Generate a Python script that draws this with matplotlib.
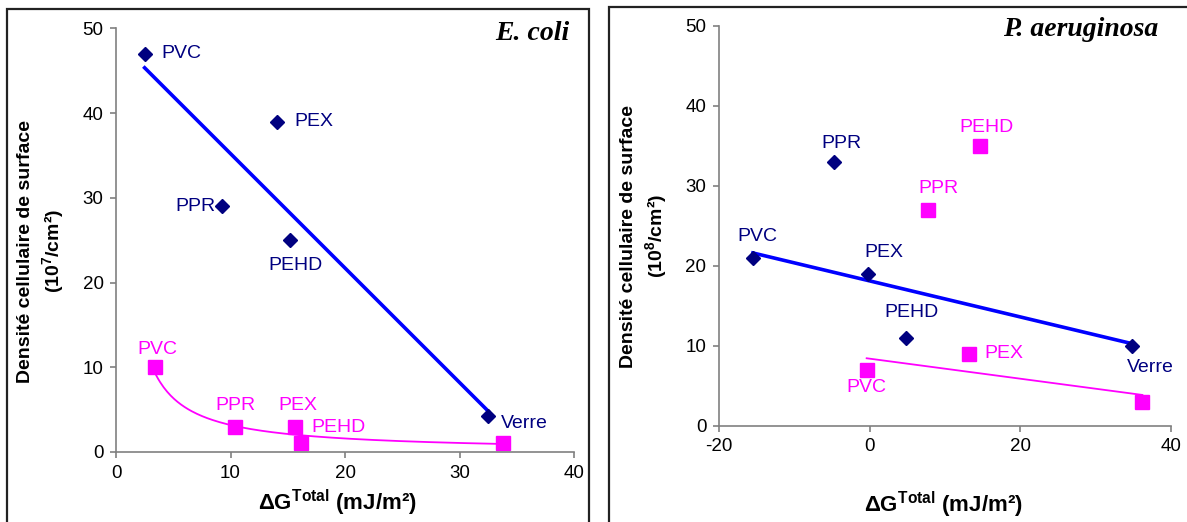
import numpy as np
import matplotlib
matplotlib.use('Agg')
import matplotlib.pyplot as plt
from matplotlib.patches import Rectangle

plt.rcParams['font.family'] = ['Liberation Sans', 'DejaVu Sans']
plt.rcParams['mathtext.fontset'] = 'custom'
plt.rcParams['mathtext.rm'] = 'Liberation Sans'
plt.rcParams['mathtext.bf'] = 'Liberation Sans:bold'
plt.rcParams['axes.unicode_minus'] = False

# ---- data ----
materials = ['PVC', 'PPR', 'PEX', 'PEHD', 'Verre']

# E. coli
ecoli_dg_blue = [2.5, 9.3, 14.1, 15.2, 32.5]
ecoli_dens_blue = [47, 29, 39, 25, 4.2]
ecoli_dg_pink = [3.4, 10.4, 15.6, 16.2, 33.8]
ecoli_dens_pink = [10, 3, 3, 1.1, 1.1]

# P. aeruginosa
pa_dg_blue = [-15.5, -4.7, -0.2, 4.8, 34.8]
pa_dens_blue = [21, 33, 19, 11, 10]
pa_dg_pink = [-0.4, 7.7, 13.2, 14.6, 36.2]
pa_dens_pink = [7, 27, 9, 35, 3]
pa_fit_mask = [True, False, True, False, True]   # points used for the trend lines

navy = '#000080'
blue = '#0000FF'
pink = '#FF00FF'

# label offsets (points): (dx, dy, ha)
ecoli_blue_off = {'PVC': (12, 0, 'left'), 'PPR': (-5, 0, 'right'), 'PEX': (12, 0, 'left'),
                  'PEHD': (4, -18, 'center'), 'Verre': (9, -5, 'left')}
ecoli_pink_off = {'PVC': (2, 13, 'center'), 'PPR': (0, 15, 'center'), 'PEX': (2, 15, 'center'),
                  'PEHD': (7, 11, 'left'), 'Verre': None}
pa_blue_off = {'PVC': (3, 15, 'center'), 'PPR': (5, 13, 'center'), 'PEX': (11, 15, 'center'),
               'PEHD': (4, 18, 'center'), 'Verre': (13, -16, 'center')}
pa_pink_off = {'PVC': (0, -13, 'center'), 'PPR': (8, 15, 'center'), 'PEX': (11, 0, 'left'),
               'PEHD': (5, 13, 'center'), 'Verre': None}

fig = plt.figure(figsize=(11.87, 5.22), dpi=100)

# outer frames of the two panels
fig.add_artist(Rectangle((7/1187, -0.05), (589-7)/1187, 1.05 - 9/522, transform=fig.transFigure,
                         fill=False, lw=1.6, ec='#222222'))
fig.add_artist(Rectangle((609/1187, -0.05), 0.6, 1.05 - 7/522, transform=fig.transFigure,
                         fill=False, lw=1.6, ec='#222222'))

ax1 = fig.add_axes([116/1187, 70/522, 458/1187, 423.7/522])
ax2 = fig.add_axes([719/1187, 96.3/522, 452/1187, 400/522])


def style(ax, xlim, xticks):
    ax.set_xlim(*xlim)
    ax.set_ylim(0, 50)
    ax.set_xticks(xticks)
    ax.set_yticks(range(0, 51, 10))
    for s in ['top', 'right']:
        ax.spines[s].set_visible(False)
    for s in ['left', 'bottom']:
        ax.spines[s].set_color('#808080')
        ax.spines[s].set_linewidth(1.2)
    ax.tick_params(direction='out', length=4, width=1.2, color='#808080', labelsize=13.5, pad=5)
    ax.patch.set_alpha(0)


def labels(ax, xs, ys, offs, color):
    for name, x, y in zip(materials, xs, ys):
        o = offs[name]
        if o is None:
            continue
        ax.annotate(name, (x, y), xytext=(o[0], o[1]), textcoords='offset points',
                    ha=o[2], va='center', fontsize=14, color=color, annotation_clip=False)


# ---- E. coli ----
style(ax1, (0, 40), range(0, 41, 10))
xb = np.array(ecoli_dg_blue)
yb = np.array(ecoli_dens_blue)
k, b = np.polyfit(xb, yb, 1)
xx = np.array([xb.min(), xb.max()])
ax1.plot(xx, k*xx + b, color=blue, lw=2.6)
xp = np.array(ecoli_dg_pink)
yp = np.array(ecoli_dens_pink)
kp, bp = np.polyfit(np.log(xp), np.log(yp), 1)
xc = np.linspace(xp.min(), xp.max(), 200)
ax1.plot(xc, np.exp(bp) * xc**kp, color=pink, lw=1.3)
ax1.plot(xb, yb, 'D', color=navy, ms=7, clip_on=False)
ax1.plot(xp, yp, 's', color=pink, ms=9.5, clip_on=False)
labels(ax1, xb, yb, ecoli_blue_off, navy)
labels(ax1, xp, yp, ecoli_pink_off, pink)

# ---- P. aeruginosa ----
style(ax2, (-20, 40), [-20, 0, 20, 40])
m = np.array(pa_fit_mask)
xb2 = np.array(pa_dg_blue)
yb2 = np.array(pa_dens_blue)
k2, b2 = np.polyfit(xb2[m], yb2[m], 1)
xx2 = np.array([xb2[m].min(), xb2[m].max()])
ax2.plot(xx2, k2*xx2 + b2, color=blue, lw=2.6)
xp2 = np.array(pa_dg_pink)
yp2 = np.array(pa_dens_pink)
k3, b3 = np.polyfit(xp2[m], yp2[m], 1)
xx3 = np.array([xp2[m].min(), xp2[m].max()])
ax2.plot(xx3, k3*xx3 + b3, color=pink, lw=1.3)
ax2.plot(xb2, yb2, 'D', color=navy, ms=7, clip_on=False)
ax2.plot(xp2, yp2, 's', color=pink, ms=9.5, clip_on=False)
labels(ax2, xb2, yb2, pa_blue_off, navy)
labels(ax2, xp2, yp2, pa_pink_off, pink)

# titles
fig.text(569/1187, 1 - 33/522, 'E. coli', ha='right', va='center', fontsize=20,
         family='Liberation Serif', style='italic', weight='bold')
fig.text(1158/1187, 1 - 29/522, 'P. aeruginosa', ha='right', va='center', fontsize=20,
         family='Liberation Serif', style='italic', weight='bold')

# axis labels
xlab = r'ΔG$^{\mathbf{Total}}$ (mJ/m²)'
fig.text(337/1187, 1 - 503/522, xlab, ha='center', va='center', fontsize=16, weight='bold')
fig.text(943/1187, 1 - 505/522, xlab, ha='center', va='center', fontsize=16, weight='bold')
fig.text(42/1187, 1 - 251/522, 'Densité cellulaire de surface\n(10$^{\\mathbf{7}}$/cm²)',
         rotation=90, ha='center', va='center', fontsize=14, weight='bold',
         multialignment='center', linespacing=1.3)
fig.text(645/1187, 1 - 236/522, 'Densité cellulaire de surface\n(10$^{\\mathbf{8}}$/cm²)',
         rotation=90, ha='center', va='center', fontsize=14, weight='bold',
         multialignment='center', linespacing=1.3)

fig.savefig('out.png', dpi=100)
